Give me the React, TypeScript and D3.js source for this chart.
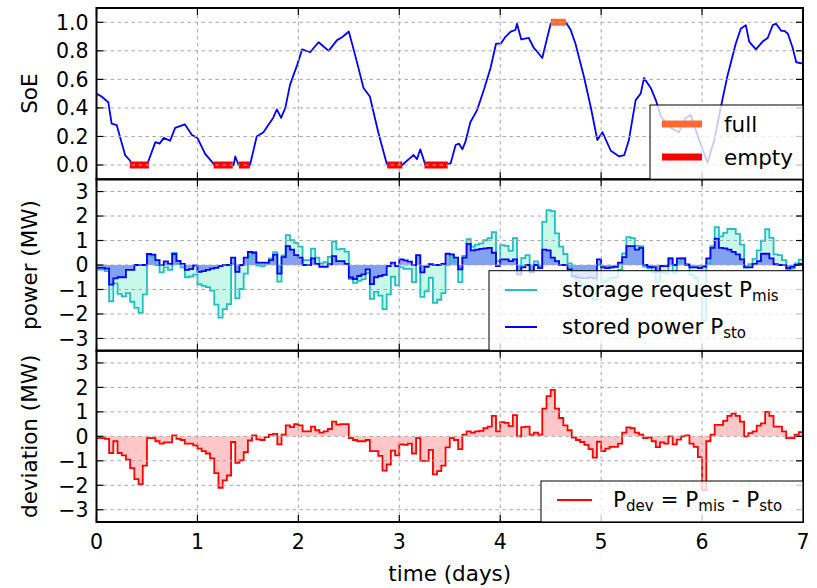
import React from 'react';
import * as d3 from 'd3';

// ---------- data ----------
// SoE line: time in hours, state-of-energy value
const socHours = [0, 1.2, 2.8, 3.6, 4.8, 6.8, 8, 8.4, 12, 14, 15, 16, 17.5, 18.7, 21, 22.7, 24, 25.8, 27.8, 28, 32.6, 33, 33.8, 36.5, 38.1, 39.7, 41.3, 42, 42.9, 43.9, 44.9, 46, 47.7, 48.9, 50.8, 52.8, 54, 55.2, 57.2, 58.4, 60, 61.5, 63.5, 65, 67, 69, 69.5, 72.7, 74.2, 75.4, 76.2, 77, 78.2, 83.8, 84.2, 85.4, 86.2, 87, 87.7, 88.9, 90.5, 92.1, 93.7, 95, 96.1, 97.3, 98.5, 99.6, 100, 101, 102.8, 104, 104.9, 106, 108, 108.4, 111.6, 112.7, 113.9, 115.9, 117.5, 119.1, 120.3, 122.3, 124.3, 125.5, 126.6, 128.2, 129.4, 130.2, 131.8, 133, 134.2, 136.6, 138.5, 140.1, 141.3, 143.3, 145.3, 146.9, 148.5, 150, 152, 153.2, 154.4, 155.2, 156.8, 158.4, 159.6, 160.8, 161.6, 162.8, 163.6, 164.4, 165.5, 166.4, 168];
const socValues = [0.5, 0.48, 0.44, 0.29, 0.28, 0.07, 0.03, 0.0, 0.0, 0.16, 0.15, 0.19, 0.17, 0.26, 0.285, 0.21, 0.19, 0.08, 0.01, 0, 0, 0.06, 0, 0, 0.2, 0.23, 0.3, 0.33, 0.39, 0.33, 0.4, 0.56, 0.7, 0.81, 0.79, 0.86, 0.83, 0.8, 0.875, 0.895, 0.935, 0.77, 0.54, 0.48, 0.23, 0.01, 0, 0, 0.04, 0.07, 0.04, 0.11, 0, 0.01, 0.01, 0.14, 0.15, 0.11, 0.16, 0.3, 0.385, 0.525, 0.68, 0.85, 0.85, 0.9, 0.935, 0.946, 0.99, 0.88, 0.89, 0.82, 0.79, 0.75, 0.99, 1.0, 1.0, 0.95, 0.85, 0.62, 0.41, 0.175, 0.23, 0.1, 0.06, 0.07, 0.175, 0.455, 0.5, 0.61, 0.54, 0.455, 0.34, 0.26, 0.23, 0.33, 0.35, 0.175, 0.016, 0.175, 0.41, 0.62, 0.85, 0.955, 0.98, 0.865, 0.81, 0.865, 0.89, 0.98, 0.99, 0.94, 0.94, 0.92, 0.825, 0.72, 0.71];

// intervals (days) where storage is empty / full
const emptyStart = [0.33, 1.16, 1.41, 2.88, 3.25];
const emptyEnd = [0.52, 1.35, 1.52, 3.03, 3.48];
const fullStart = [4.5];
const fullEnd = [4.65];

// hourly stored power P_sto (MW)
const pSto = [
  -0.12, -0.12, -0.15, -0.8, -0.55, -0.5, -0.5, -0.2, -0.2, 0, 0, 0,
  0.45, 0.42, 0.2, 0.0, 0.15, 0.05, 0.45, 0.17, 0.05, -0.2, -0.17, -0.02,
  -0.28, -0.25, -0.2, -0.15, -0.12, -0.05, 0, 0, 0.3, -0.28, 0.0, 0.3,
  0.53, 0.5, 0.1, 0.1, 0.1, 0.2, 0.42, -0.35, 0.32, 0.77, 0.63, 0.4,
  0.3, 0.0, 0.0, 0.27, 0.05, -0.08, -0.08, 0.03, 0.36, 0.16, 0.16, 0.05,
  -0.51, -0.58, -0.45, -0.38, -0.18, -0.78, -0.5, -0.45, -0.4, -0.05, 0.1, -0.05,
  0.23, 0.19, 0.14, 0.0, 0.4, -0.3, -0.08, 0.03, 0, 0, 0.05, 0.46,
  0.43, 0.3, -0.18, 0.3, 0.86, 0.6, 0.63, 0.66, 0.68, 0.7, 0.5, -0.04,
  0.23, 0.23, 0.16, 0.23, -0.38, -0.1, 0.0, -0.3, 0.0, -0.13, 0.63, 0.6,
  0.3, 0.16, 0, 0, -0.18, -0.45, -0.51, -0.54, -0.54, -0.51, -0.55, 0.23,
  -0.1, -0.13, -0.1, -0.08, 0.1, 0.32, 0.77, 0.77, 0.63, 0.7, 0, -0.08,
  -0.1, -0.27, -0.04, -0.04, 0.27, 0, 0.27, 0.27, 0, -0.1, -0.1, -0.13,
  -0.07, 0.27, 0.7, 1.08, 0.7, 0.68, 0.63, 0.54, 0.43, 0.23, -0.1, -0.1,
  0.05, 0.16, 0.46, 0.46, 0.27, 0.03, 0, 0, -0.13, -0.08, 0, 0.05,
];

// hourly deviation P_dev (MW)
const pDev = [
  -0.07, -0.07, -0.1, -0.68, -0.2, -0.68, -0.78, -0.95, -1.3, -1.75, -1.95, -1.2,
  -0.07, -0.07, -0.2, -0.3, -0.25, -0.25, 0.04, -0.1, -0.15, -0.3, -0.3, -0.37,
  -0.5, -0.6, -0.7, -0.9, -1.5, -2.1, -1.8, -1.6, -0.23, -1.08, -0.98, -0.65,
  -0.17, 0.04, -0.12, -0.15, -0.03, 0.07, 0.1, -0.33, 0.07, 0.45, 0.38, 0.5,
  0.45, 0.2, 0.2, 0.4, 0.25, 0.15, 0.2, 0.3, 0.6, 0.48, 0.5, 0.5,
  -0.07, -0.15, -0.2, -0.2, -0.15, -0.6, -0.6, -0.8, -1.4, -1.15, -0.58, -0.78,
  -0.33, -0.35, -0.3, -0.7, -0.07, -1.0, -1.0, -0.55, -1.55, -1.42, -1.2, -0.45,
  -0.07, -0.15, -0.52, 0.07, 0.2, 0.15, 0.2, 0.22, 0.33, 0.4, 0.84, 0.2,
  0.58, 0.55, 0.42, 0.87, 0.0, 0.38, 0.4, 0.07, 0.15, 0.07, 1.13, 1.64,
  1.9, 1.13, 0.75, 0.45, 0.25, -0.05, -0.15, -0.23, -0.35, -0.52, -0.87, -0.22,
  -0.6, -0.5, -0.43, -0.43, -0.3, 0.15, 0.37, 0.33, 0.15, 0.07, -0.07, -0.05,
  -0.2, -0.44, -0.25, -0.3, 0.0, -0.33, -0.13, 0.0, 0.04, -0.3, -0.43, -0.85,
  -2.2, -0.2, 0.07, 0.47, 0.47, 0.63, 0.84, 0.93, 0.84, 0.6, 0.0, 0.13,
  0.2, 0.44, 0.53, 1.0, 0.84, 0.4, 0.4, 0.2, -0.07, -0.07, 0.07, 0.17,
];

// storage request = stored + deviation
const pMis = pSto.map((v, i) => v + pDev[i]);

const xTicks = [0, 1, 2, 3, 4, 5, 6, 7];
const socTicks = [0, 0.2, 0.4, 0.6, 0.8, 1.0];
const powTicks = [-3, -2, -1, 0, 1, 2, 3];

// ---------- layout ----------
const W = 817;
const H = 588;
const L = 96.5;
const R = 803;
const T1 = 8;
const B1 = 179.3;
const B2 = 350.7;
const B3 = 522;
const FONT = 'DejaVu Sans, sans-serif';
const FS = 20.5;

const x = d3.scaleLinear().domain([0, 7]).range([L, R]);
const y1 = d3.scaleLinear().domain([-0.1, 1.1]).range([B1, T1]);
const y2 = d3.scaleLinear().domain([-3.5, 3.5]).range([B2, B1]);
const y3 = d3.scaleLinear().domain([-3.5, 3.5]).range([B3, B2]);

const fmtMinus = (v: number) => (v < 0 ? '\u2212' + Math.abs(v) : String(v));

function stepPts(vals: number[]): [number, number][] {
  const pts: [number, number][] = vals.map((v, i) => [i / 24, v]);
  pts.push([vals.length / 24, vals[vals.length - 1]]);
  return pts;
}

function stepLine(vals: number[], y: d3.ScaleLinear<number, number>) {
  return d3
    .line<[number, number]>()
    .x((d) => x(d[0]))
    .y((d) => y(d[1]))
    .curve(d3.curveStepAfter)(stepPts(vals)) as string;
}
function stepArea(vals: number[], y: d3.ScaleLinear<number, number>) {
  return d3
    .area<[number, number]>()
    .x((d) => x(d[0]))
    .y0(y(0))
    .y1((d) => y(d[1]))
    .curve(d3.curveStepAfter)(stepPts(vals)) as string;
}

function Frame({ top, bottom, y, ticks, fmt, showX }: any) {
  return (
    <g>
      {/* grid */}
      {xTicks.slice(1, -1).map((t) => (
        <line key={'gx' + t} x1={x(t)} x2={x(t)} y1={top} y2={bottom} stroke="#a8a8a8" strokeWidth={1} strokeDasharray="3.5,3.5" />
      ))}
      {ticks.map((t: number) => (
        <line key={'gy' + t} x1={L} x2={R} y1={y(t)} y2={y(t)} stroke="#a8a8a8" strokeWidth={1} strokeDasharray="3.5,3.5" />
      ))}
      {/* ticks */}
      {xTicks.map((t) => (
        <g key={'tx' + t}>
          <line x1={x(t)} x2={x(t)} y1={top} y2={top + 7} stroke="#000" strokeWidth={1.2} />
          <line x1={x(t)} x2={x(t)} y1={bottom} y2={bottom - 7} stroke="#000" strokeWidth={1.2} />
        </g>
      ))}
      {ticks.map((t: number) => (
        <g key={'ty' + t}>
          <line x1={L} x2={L + 7} y1={y(t)} y2={y(t)} stroke="#000" strokeWidth={1.2} />
          <line x1={R} x2={R - 7} y1={y(t)} y2={y(t)} stroke="#000" strokeWidth={1.2} />
          <text x={L - 8} y={y(t)} dy="0.36em" textAnchor="end" fontFamily={FONT} fontSize={FS} fill="#000">
            {fmt(t)}
          </text>
        </g>
      ))}
      {showX &&
        xTicks.map((t) => (
          <text key={'lx' + t} x={x(t)} y={bottom + 27} textAnchor="middle" fontFamily={FONT} fontSize={FS} fill="#000">
            {t}
          </text>
        ))}
    </g>
  );
}

export default function App() {
  const socLine = d3
    .line<number>()
    .x((_, i) => x(socHours[i] / 24))
    .y((d) => y1(d))(socValues) as string;

  const legendBox = { fill: '#fff', fillOpacity: 0.78, stroke: '#000', strokeWidth: 1 };

  return (
    <svg width={W} height={H} style={{ position: 'absolute', left: 0, top: 0, background: '#fff' }} xmlns="http://www.w3.org/2000/svg">
      <defs>
        <clipPath id="c1"><rect x={L} y={T1} width={R - L} height={B1 - T1} /></clipPath>
        <clipPath id="c2"><rect x={L} y={B1} width={R - L} height={B2 - B1} /></clipPath>
        <clipPath id="c3"><rect x={L} y={B2} width={R - L} height={B3 - B2} /></clipPath>
      </defs>
      <rect x={0} y={0} width={W} height={H} fill="#fff" />

      {/* panel 1: SoE */}
      <g clipPath="url(#c1)">
        <path d={socLine} fill="none" stroke="#0000ff" strokeWidth={1.8} strokeLinejoin="round" />
        {emptyStart.map((s, i) => (
          <line key={'e' + i} x1={x(s)} x2={x(emptyEnd[i])} y1={y1(0)} y2={y1(0)} stroke="#ff0000" strokeWidth={7} />
        ))}
        {fullStart.map((s, i) => (
          <line key={'f' + i} x1={x(s)} x2={x(fullEnd[i])} y1={y1(1)} y2={y1(1)} stroke="#ff6a33" strokeWidth={7} />
        ))}
      </g>
      <Frame top={T1} bottom={B1} y={y1} ticks={socTicks} fmt={(t: number) => t.toFixed(1)} showX={false} />

      {/* panel 2: power */}
      <g clipPath="url(#c2)">
        <path d={stepArea(pMis, y2)} fill="#c8f8ea" stroke="none" />
        <path d={stepArea(pSto, y2)} fill="#0000ff" fillOpacity={0.35} stroke="none" />
        <path d={stepLine(pMis, y2)} fill="none" stroke="#20c0c0" strokeWidth={1.8} />
        <path d={stepLine(pSto, y2)} fill="none" stroke="#0000ff" strokeWidth={1.8} />
      </g>
      <Frame top={B1} bottom={B2} y={y2} ticks={powTicks} fmt={fmtMinus} showX={false} />

      {/* panel 3: deviation */}
      <g clipPath="url(#c3)">
        <path d={stepArea(pDev, y3)} fill="#ff0000" fillOpacity={0.22} stroke="none" />
        <path d={stepLine(pDev, y3)} fill="none" stroke="#ff0000" strokeWidth={1.8} />
      </g>
      <Frame top={B2} bottom={B3} y={y3} ticks={powTicks} fmt={fmtMinus} showX={true} />

      {/* axes frames */}
      <rect x={L} y={T1} width={R - L} height={B1 - T1} fill="none" stroke="#000" strokeWidth={2} />
      <rect x={L} y={B1} width={R - L} height={B2 - B1} fill="none" stroke="#000" strokeWidth={2} />
      <rect x={L} y={B2} width={R - L} height={B3 - B2} fill="none" stroke="#000" strokeWidth={2} />

      {/* legends */}
      <rect x={650} y={105} width={R - 650} height={B1 - 105} {...legendBox} />
      <line x1={662} x2={702} y1={124} y2={124} stroke="#ff6a33" strokeWidth={7} />
      <text x={724} y={124} dy="0.36em" fontFamily={FONT} fontSize={FS + 1} fill="#000">full</text>
      <line x1={662} x2={702} y1={157} y2={157} stroke="#ff0000" strokeWidth={7} />
      <text x={724} y={157} dy="0.36em" fontFamily={FONT} fontSize={FS + 1} fill="#000">empty</text>

      <rect x={489} y={270.7} width={R - 489} height={B2 - 270.7} {...legendBox} />
      <line x1={505} x2={537} y1={290} y2={290} stroke="#20c0c0" strokeWidth={2} />
      <text x={562} y={297} fontFamily={FONT} fontSize={FS + 1} fill="#000">
        storage request P<tspan fontSize={15} dy={4}>mis</tspan>
      </text>
      <line x1={505} x2={537} y1={327} y2={327} stroke="#0000ff" strokeWidth={2} />
      <text x={562} y={334} fontFamily={FONT} fontSize={FS + 1} fill="#000">
        stored power P<tspan fontSize={15} dy={4}>sto</tspan>
      </text>

      <rect x={541} y={481} width={R - 541} height={B3 - 481} {...legendBox} />
      <line x1={557} x2={592} y1={500} y2={500} stroke="#ff0000" strokeWidth={2} />
      <text x={613} y={507} fontFamily={FONT} fontSize={FS + 1} fill="#000">
        P<tspan fontSize={15} dy={4}>dev</tspan>
        <tspan dy={-4}> = P</tspan>
        <tspan fontSize={15} dy={4}>mis</tspan>
        <tspan dy={-4}> - P</tspan>
        <tspan fontSize={15} dy={4}>sto</tspan>
      </text>

      {/* axis labels */}
      <text transform={`translate(37,${(T1 + B1) / 2}) rotate(-90)`} textAnchor="middle" fontFamily={FONT} fontSize={FS + 1} fill="#000">SoE</text>
      <text transform={`translate(37,${(B1 + B2) / 2}) rotate(-90)`} textAnchor="middle" fontFamily={FONT} fontSize={FS + 1} fill="#000">power (MW)</text>
      <text transform={`translate(37,${(B2 + B3) / 2}) rotate(-90)`} textAnchor="middle" fontFamily={FONT} fontSize={FS + 1} fill="#000">deviation (MW)</text>
      <text x={(L + R) / 2} y={581} textAnchor="middle" fontFamily={FONT} fontSize={FS + 1} fill="#000">time (days)</text>
    </svg>
  );
}
